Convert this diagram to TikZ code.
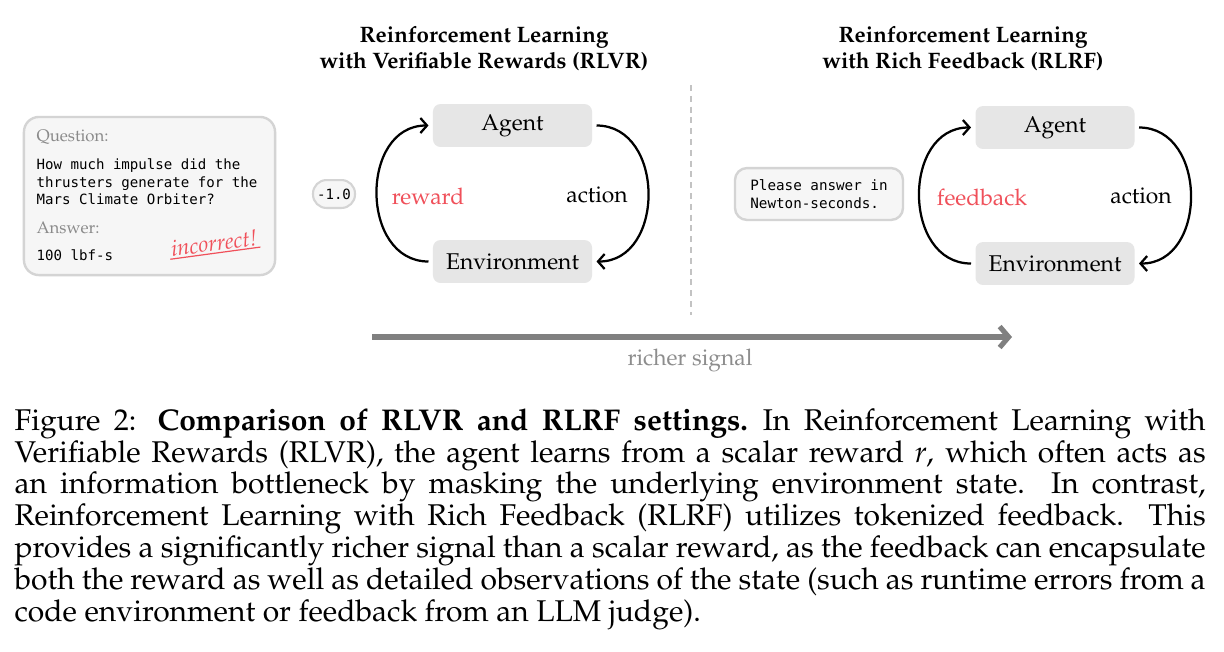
\documentclass[tikz,border=0pt]{standalone}
\usepackage[T1]{fontenc}
\usepackage{fontspec}
\usepackage{tikz}
\usetikzlibrary{arrows.meta, positioning}
\newfontfamily\codefont{DejaVu Sans Mono}
\newcommand\pal{\fontencoding{T1}\fontfamily{ppl}\selectfont}
\definecolor{boxgray}{RGB}{230,230,230}
\definecolor{cardfill}{RGB}{246,246,246}
\definecolor{cardline}{RGB}{212,212,212}
\definecolor{hint}{RGB}{138,138,138}
\definecolor{signal}{RGB}{128,128,128}
\definecolor{alert}{RGB}{240,80,90}

\begin{document}
\begin{tikzpicture}[x=0.3333pt, y=-0.3333pt, every node/.style={font=\pal},
  loopbox/.style={fill=boxgray, rounded corners=2.5pt, minimum width=53pt,
                  minimum height=14.3pt, inner sep=0pt, outer sep=1.5pt,
                  font=\pal\fontsize{7.6}{9}\selectfont},
  card/.style={draw=cardline, fill=cardfill, line width=0.8pt, rounded corners=5pt},
  pill/.style={draw=cardline, fill=cardfill, line width=0.7pt, rounded corners=4.5pt,
               inner sep=0pt, minimum width=14pt, minimum height=9.3pt,
               font=\codefont\fontsize{4.7}{5.8}\selectfont},
  code/.style={font=\codefont\fontsize{4.7}{5.83}\selectfont, anchor=west,
               inner sep=0pt, align=left},
  hintlbl/.style={font=\pal\fontsize{5.6}{6.5}\selectfont, text=hint, anchor=west,
                  inner sep=0pt},
  head/.style={font=\pal\bfseries\fontsize{7.45}{8.7}\selectfont, align=center},
  lbl/.style={font=\pal\fontsize{7.6}{9}\selectfont},
  loop/.style={-{Straight Barb[length=2.2pt, width=5pt]}, line width=0.75pt,
               looseness=1.3}]

  \path[use as bounding box, fill=white] (0,0) rectangle (1224,651);

  % question card
  \node[card, minimum width=83.7pt, minimum height=52.7pt] (qcard) at (149.5,196) {};
  \node[hintlbl] (qlbl) at (36,137) {Question:};
  \node[code] (qtext) at (36,182) {How much impulse did the\\thrusters generate for the\\Mars Climate Orbiter?};
  \node[hintlbl] (albl) at (36,228) {Answer:};
  \node[code] (atext) at (36,255) {100 lbf-s};
  \node[text=alert, rotate=7.7, inner sep=0.5pt, font=\pal\itshape\fontsize{7.4}{9}\selectfont]
       (wrong) at (214,243) {incorrect!};
  \draw[alert, line width=0.4pt] (wrong.south west) -- (wrong.south east);
  \node[pill] (score) at (334,194) {-1.0};

  % RLVR loop
  \node[head] (rlvr) at (484,49) {Reinforcement Learning\\with Verifiable Rewards (RLVR)};
  \node[loopbox] (agentL) at (512.5,125.5) {Agent};
  \node[loopbox] (envL) at (512.5,261.5) {Environment};
  \draw[loop] (envL.west) to[out=180, in=180] (agentL.west);
  \draw[loop] (agentL.east) to[out=0, in=0] (envL.east);
  \node[lbl, text=alert] (rewardL) at (428,196) {reward};
  \node[lbl] (actionL) at (597,195) {action};

  \draw[cardline!80!gray, line width=0.4pt, dash pattern=on 2pt off 1.6pt] (691,85) -- (691,315);

  % RLRF loop
  \node[head] (rlrf) at (963,49) {Reinforcement Learning\\with Rich Feedback (RLRF)};
  \node[card, rounded corners=4pt, minimum width=56pt, minimum height=17.3pt,
        align=left, inner xsep=3.6pt, font=\codefont\fontsize{4.75}{6}\selectfont]
       (hintR) at (819,194) {Please answer in\\Newton-seconds.};
  \node[loopbox] (agentR) at (1055,127.5) {Agent};
  \node[loopbox] (envR) at (1055,263.5) {Environment};
  \draw[loop] (envR.west) to[out=180, in=180] (agentR.west);
  \draw[loop] (agentR.east) to[out=0, in=0] (envR.east);
  \node[lbl, text=alert] (feedbackR) at (982,197) {feedback};
  \node[lbl] (actionR) at (1141,196) {action};

  % signal axis
  \coordinate (sigA) at (372,337);
  \coordinate (sigB) at (1012,337);
  \draw[signal, line width=1.7pt, -{Straight Barb[length=3pt, width=7pt]}] (sigA) -- (sigB);
  \node[lbl, text=signal!90] (sigtext) at (690,360) {richer signal};

  % caption
  \node[anchor=north west, inner sep=0pt, text width=397pt, align=justify,
        font=\pal\fontsize{10}{10.6}\selectfont] (caption) at (14,408)
  {Figure 2: \textbf{Comparison of RLVR and RLRF settings.}\enspace In Reinforcement Learning with\linebreak
   Verifiable Rewards (RLVR), the agent learns from a scalar reward \textit{r}, which often acts as\linebreak
   an information bottleneck by masking the underlying environment state. In contrast,\linebreak
   Reinforcement Learning with Rich Feedback (RLRF) utilizes tokenized feedback. This\linebreak
   provides a significantly richer signal than a scalar reward, as the feedback can encapsulate\linebreak
   both the reward as well as detailed observations of the state (such as runtime errors from a\linebreak
   code environment or feedback from an LLM judge).};
\end{tikzpicture}
\end{document}
